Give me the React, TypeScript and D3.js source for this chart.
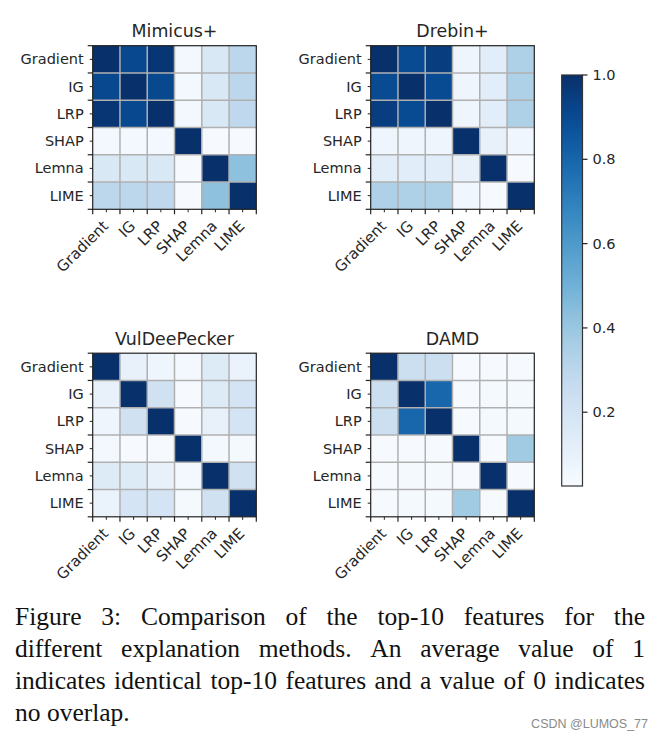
import React from "react";
import * as d3 from "d3";

const methods = ["Gradient", "IG", "LRP", "SHAP", "Lemna", "LIME"];

const mimicusValues = [
  [1.0, 0.91, 0.98, 0.05, 0.17, 0.3],
  [0.91, 1.0, 0.91, 0.05, 0.17, 0.3],
  [0.98, 0.91, 1.0, 0.05, 0.17, 0.29],
  [0.05, 0.05, 0.05, 1.0, 0.03, 0.03],
  [0.17, 0.17, 0.17, 0.03, 1.0, 0.43],
  [0.3, 0.3, 0.29, 0.03, 0.43, 1.0],
];

const drebinValues = [
  [1.0, 0.9, 0.95, 0.07, 0.13, 0.34],
  [0.9, 1.0, 0.9, 0.07, 0.13, 0.34],
  [0.95, 0.9, 1.0, 0.07, 0.13, 0.34],
  [0.07, 0.07, 0.07, 1.0, 0.1, 0.06],
  [0.13, 0.13, 0.13, 0.1, 1.0, 0.03],
  [0.34, 0.34, 0.34, 0.06, 0.03, 1.0],
];

const vulDeePeckerValues = [
  [1.0, 0.1, 0.07, 0.05, 0.15, 0.09],
  [0.1, 1.0, 0.22, 0.03, 0.15, 0.2],
  [0.07, 0.22, 1.0, 0.03, 0.1, 0.2],
  [0.05, 0.03, 0.03, 1.0, 0.05, 0.04],
  [0.15, 0.15, 0.1, 0.05, 1.0, 0.22],
  [0.09, 0.2, 0.2, 0.04, 0.22, 1.0],
];

const damdValues = [
  [1.0, 0.24, 0.24, 0.03, 0.03, 0.03],
  [0.24, 1.0, 0.8, 0.03, 0.04, 0.04],
  [0.24, 0.8, 1.0, 0.03, 0.04, 0.04],
  [0.03, 0.03, 0.03, 1.0, 0.03, 0.38],
  [0.03, 0.04, 0.04, 0.03, 1.0, 0.03],
  [0.03, 0.04, 0.04, 0.38, 0.03, 1.0],
];

const panelTitles = ["Mimicus+", "Drebin+", "VulDeePecker", "DAMD"];
const panelValues = [mimicusValues, drebinValues, vulDeePeckerValues, damdValues];

const colorbarTicks = [0.2, 0.4, 0.6, 0.8, 1.0];
const colorDomain = [0.025, 1.0];

const blues9 = ["#f7fbff", "#deebf7", "#c6dbef", "#9ecae1", "#6baed6", "#4292c6", "#2171b5", "#08519c", "#08306b"];

const captionLines = [
  "Figure 3: Comparison of the top-10 features for the",
  "different explanation methods. An average value of 1",
  "indicates identical top-10 features and a value of 0 indicates",
  "no overlap.",
];
const watermark = "CSDN @LUMOS_77";

const color = d3
  .scaleLinear<string>()
  .domain(blues9.map((_, i) => colorDomain[0] + (i / 8) * (colorDomain[1] - colorDomain[0])))
  .range(blues9)
  .interpolate(d3.interpolateRgb)
  .clamp(true);

const FONT = "'DejaVu Sans', sans-serif";
const SERIF = "'Liberation Serif', 'Times New Roman', serif";
const TXT = "#262626";

let measureCtx: CanvasRenderingContext2D | null = null;
function measure(text: string, font: string): number {
  if (!measureCtx) {
    const c = document.createElement("canvas");
    measureCtx = c.getContext("2d");
  }
  if (!measureCtx) return text.length * 10;
  measureCtx.font = font;
  return measureCtx.measureText(text).width;
}

function Heatmap({ x0, y0, size, title, values }: { x0: number; y0: number; size: number; title: string; values: number[][] }) {
  const band = d3.scaleBand<string>().domain(methods).range([0, size]);
  const bw = band.bandwidth();
  const edges = d3.range(methods.length + 1).map((i) => i * bw);
  return (
    <g transform={`translate(${x0},${y0})`}>
      <text x={size / 2} y={-8.5} textAnchor="middle" fontFamily={FONT} fontSize={17.4} fill={TXT}>
        {title}
      </text>
      {values.map((row, r) =>
        row.map((v, c) => (
          <rect key={`${r}-${c}`} x={band(methods[c])} y={band(methods[r])} width={bw} height={bw} fill={color(v)} />
        ))
      )}
      {edges.slice(1, -1).map((e, i) => (
        <g key={`g${i}`}>
          <line x1={e} x2={e} y1={0} y2={size} stroke="#b0b0b0" strokeWidth={1.5} />
          <line x1={0} x2={size} y1={e} y2={e} stroke="#b0b0b0" strokeWidth={1.5} />
        </g>
      ))}
      <rect x={0} y={0} width={size} height={size} fill="none" stroke="#222" strokeWidth={1.2} />
      {edges.map((e, i) => (
        <g key={`t${i}`}>
          <line x1={e} x2={e} y1={size} y2={size + 5} stroke="#222" strokeWidth={1.2} />
          <line x1={0} x2={-5} y1={e} y2={e} stroke="#222" strokeWidth={1.2} />
        </g>
      ))}
      {methods.map((m) => {
        const c = (band(m) as number) + bw / 2;
        return (
          <g key={`l${m}`}>
            <line x1={c} x2={c} y1={size} y2={size + 3} stroke="#222" strokeWidth={1} />
            <line x1={0} x2={-3} y1={c} y2={c} stroke="#222" strokeWidth={1} />
            <text x={-9} y={c} dy="0.35em" textAnchor="end" fontFamily={FONT} fontSize={14.5} fill={TXT}>
              {m}
            </text>
            <text
              transform={`translate(${c - 1},${size + 14}) rotate(-45)`}
              textAnchor="end"
              dy="0.35em"
              fontFamily={FONT}
              fontSize={15}
              fill={TXT}
            >
              {m}
            </text>
          </g>
        );
      })}
    </g>
  );
}

function Colorbar({ x0, y0, w, h }: { x0: number; y0: number; w: number; h: number }) {
  const y = d3.scaleLinear().domain(colorDomain).range([h, 0]);
  const stops = d3.range(0, 1.0001, 0.05);
  return (
    <g transform={`translate(${x0},${y0})`}>
      <defs>
        <linearGradient id="cbgrad" x1="0" y1="1" x2="0" y2="0">
          {stops.map((s) => (
            <stop key={s} offset={s} stopColor={color(colorDomain[0] + s * (colorDomain[1] - colorDomain[0]))} />
          ))}
        </linearGradient>
      </defs>
      <rect x={0} y={0} width={w} height={h} fill="url(#cbgrad)" stroke="#333" strokeWidth={1.2} />
      {colorbarTicks.map((t) => (
        <g key={t} transform={`translate(0,${y(t)})`}>
          <line x1={w} x2={w + 5} stroke="#222" strokeWidth={1.2} />
          <text x={w + 10} dy="0.35em" fontFamily={FONT} fontSize={14.5} fill={TXT}>
            {t.toFixed(1)}
          </text>
        </g>
      ))}
    </g>
  );
}

function Caption({ x0, y0, width, lineH, size }: { x0: number; y0: number; width: number; lineH: number; size: number }) {
  const font = `${size}px "Liberation Serif"`;
  return (
    <g>
      {captionLines.map((line, li) => {
        const words = line.split(" ");
        const widths = words.map((w) => measure(w, font));
        const total = d3.sum(widths);
        const last = li === captionLines.length - 1;
        const gap = last ? measure(" ", font) : (width - total) / (words.length - 1);
        let x = x0;
        return words.map((w, wi) => {
          const el = (
            <text key={`${li}-${wi}`} x={x} y={y0 + li * lineH} fontFamily={SERIF} fontSize={size} fill="#111">
              {w}
            </text>
          );
          x += widths[wi] + gap;
          return el;
        });
      })}
    </g>
  );
}

export default function App() {
  const size = 163.6;
  const positions = [
    [92.7, 45.7],
    [370.7, 45.7],
    [92.7, 353.2],
    [370.7, 353.2],
  ];
  return (
    <svg width={663} height={740} style={{ position: "absolute", left: 0, top: 0, background: "#fff" }}>
      <rect width={663} height={740} fill="#fff" />
      {panelTitles.map((t, i) => (
        <Heatmap key={t} x0={positions[i][0]} y0={positions[i][1]} size={size} title={t} values={panelValues[i]} />
      ))}
      <Colorbar x0={561.7} y0={75} w={20.8} h={411} />
      <Caption x0={15} y0={625} width={630} lineH={32} size={25.5} />
      <text x={648} y={728} textAnchor="end" fontFamily="'Liberation Sans', Arial, sans-serif" fontSize={12.5} fill="#8a8a8a">
        {watermark}
      </text>
    </svg>
  );
}
